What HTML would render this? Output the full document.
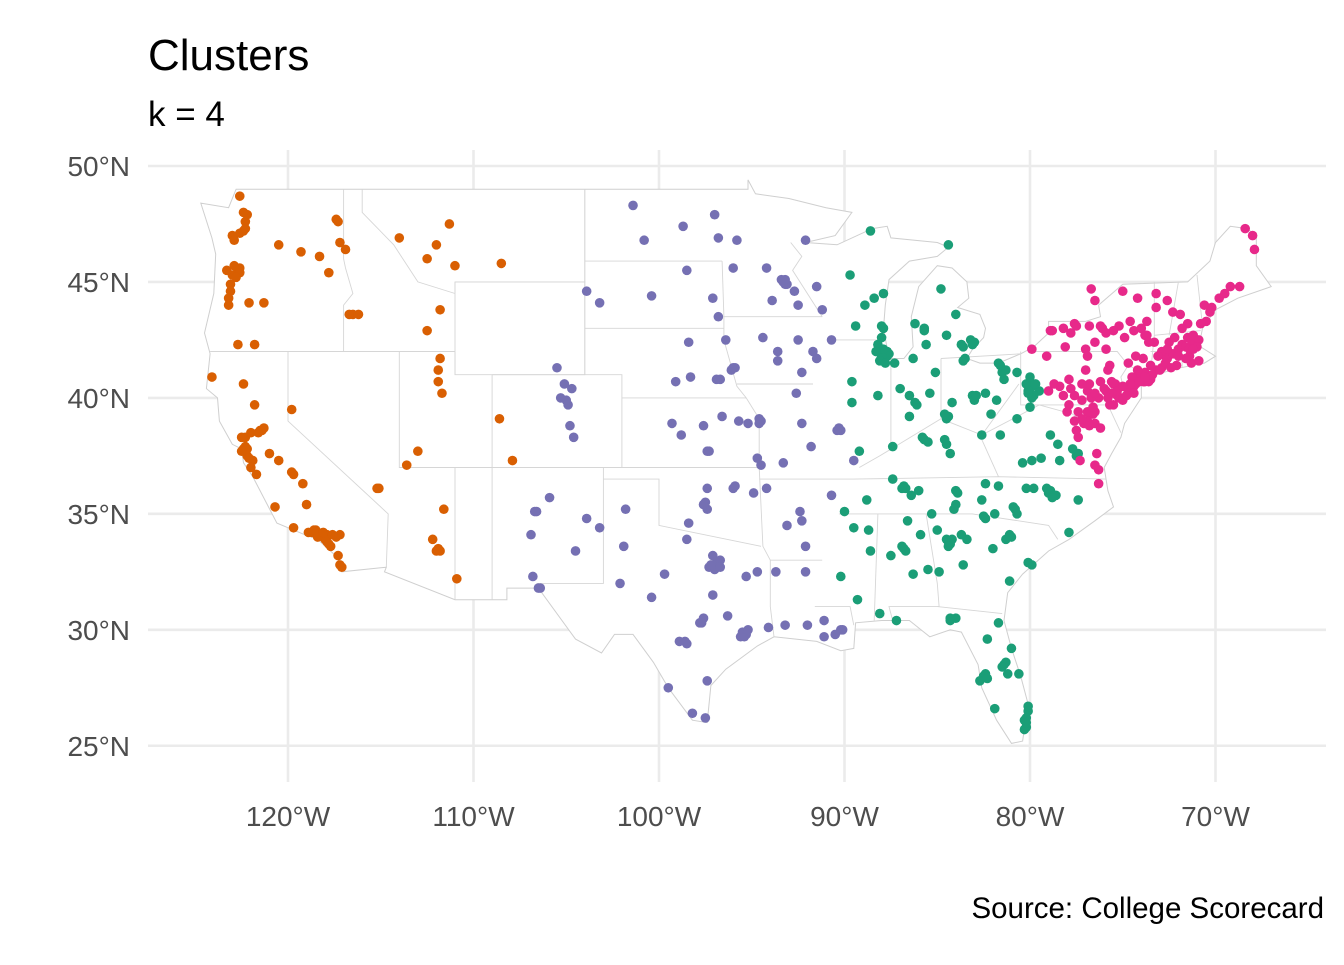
<!DOCTYPE html>
<html><head><meta charset="utf-8"><title>Clusters</title>
<style>
html,body{margin:0;padding:0;background:#fff;}
body{width:1344px;height:960px;overflow:hidden;font-family:"Liberation Sans",Arial,sans-serif;}
svg text{font-family:"Liberation Sans",Arial,sans-serif;}
</style></head>
<body>
<svg id="chart" width="1344" height="960" viewBox="0 0 1344 960" xmlns="http://www.w3.org/2000/svg">
<text x="148" y="70" font-size="44" fill="#000">Clusters</text>
<text x="148" y="126" font-size="35" fill="#000">k = 4</text>
<g id="grid"></g>
<g id="map"></g>
<g id="pts"></g>
<g id="axes"></g>
<text x="1324" y="918" font-size="29.5" text-anchor="end" fill="#000">Source: College Scorecard</text>
</svg>
<script>
const lonTicks=[-120,-110,-100,-90,-80,-70];
const latTicks=[25,30,35,40,45,50];
const lonLabels=["120°W","110°W","100°W","90°W","80°W","70°W"];
const latLabels=["25°N","30°N","35°N","40°N","45°N","50°N"];
const clusterColors={west:"#D95F02",central:"#7570B3",east:"#1B9E77",northeast:"#E7298A"};
const westPts=[[-122.6,48.7],[-122.3,47.6],[-122.4,47.2],[-122.6,47.1],[-123,47],[-122.9,46.8],[-122.2,47.9],[-122.3,47.3],[-117.4,47.7],[-117.3,47.6],[-117.2,46.7],[-119.3,46.3],[-120.5,46.6],[-118.3,46.1],[-122.7,45.5],[-122.6,45.6],[-123,45.3],[-122.6,45.4],[-122.8,45.2],[-122.9,45.7],[-123.1,44.9],[-123.1,44.6],[-123.2,44],[-123.2,44.3],[-122.1,44.1],[-121.3,44.1],[-122.7,42.3],[-121.8,42.3],[-117.8,45.4],[-116.2,43.6],[-116.5,43.6],[-116.7,43.6],[-112.5,42.9],[-111.8,43.8],[-116.9,46.4],[-114,46.9],[-112,46.6],[-111,45.7],[-108.5,45.8],[-112.5,46],[-111.3,47.5],[-111.9,40.7],[-111.7,40.2],[-111.8,41.7],[-111.9,41.2],[-113.6,37.1],[-124.1,40.9],[-122.4,40.6],[-121.8,39.7],[-121.5,38.6],[-121.4,38.6],[-122.3,38.3],[-122.4,37.8],[-122.3,37.9],[-122.2,37.5],[-121.9,37.3],[-122,37],[-121.7,36.7],[-121,37.6],[-120.5,37.3],[-119.8,36.8],[-119.7,36.7],[-119.2,36.3],[-119,35.4],[-120.7,35.3],[-119.7,34.4],[-118.5,34.3],[-118.3,34.1],[-118.1,34],[-118.2,34.1],[-117.9,33.8],[-117.7,33.6],[-117.9,34.1],[-118,33.9],[-117.4,34],[-117.2,34.1],[-117.2,32.8],[-117.1,32.7],[-117.3,33.2],[-118.7,34.2],[-118.6,34.3],[-118.4,34],[-117.6,34.1],[-121.3,38.7],[-122,38.5],[-122.5,38.3],[-122.2,37.8],[-121.6,38.5],[-115.2,36.1],[-115.1,36.1],[-119.8,39.5],[-112,33.4],[-111.9,33.5],[-111.8,33.4],[-111.6,35.2],[-110.9,32.2],[-112.2,33.9],[-113,37.7],[-108.6,39.1],[-107.9,37.3],[-122.5,37.7],[-122.1,37.4],[-118.9,34.2],[-118.1,34.2],[-117.8,33.7],[-123.3,45.5],[-122.4,48]];
const centralPts=[[-104.9,39.7],[-105,39.9],[-105.3,40],[-104.8,38.8],[-104.6,38.3],[-105.1,40.6],[-104.7,40.4],[-105.5,41.3],[-103.9,44.6],[-103.2,44.1],[-106.6,35.1],[-106.7,35.1],[-106.8,32.3],[-103.2,34.4],[-105.9,35.7],[-106.9,34.1],[-104.5,33.4],[-103.9,34.8],[-106.4,31.8],[-106.5,31.8],[-97.7,30.3],[-97.8,30.3],[-97.1,32.7],[-96.8,32.8],[-96.9,32.9],[-97.3,32.7],[-97,32.6],[-96.7,33],[-95.4,29.7],[-95.3,29.8],[-95.5,29.9],[-95.2,30],[-98.5,29.4],[-98.6,29.5],[-101.9,33.6],[-101.8,35.2],[-98.2,26.4],[-97.4,27.8],[-97.5,26.2],[-99.5,27.5],[-100.4,31.4],[-102.1,32],[-99.7,32.4],[-97.1,31.5],[-96.3,30.6],[-94.1,30.1],[-95.3,32.3],[-94.7,32.5],[-97.1,33.2],[-98.5,33.9],[-97.4,35.2],[-96,36.1],[-97.5,35.5],[-97.4,36.1],[-95.9,36.2],[-98.4,34.6],[-94.9,35.9],[-97.3,37.7],[-97.4,37.7],[-95.7,39],[-95.2,38.9],[-96.6,39.2],[-99.3,38.9],[-97.6,38.8],[-98.8,38.4],[-94.7,37.4],[-96.7,40.8],[-96,41.3],[-96.1,41.2],[-98.3,40.9],[-98.4,42.4],[-99.1,40.7],[-96.8,43.5],[-96.8,46.9],[-97,47.9],[-100.8,46.8],[-101.4,48.3],[-98.7,47.4],[-98.5,45.5],[-97.1,44.3],[-100.4,44.4],[-93.3,45],[-93.2,44.9],[-93.1,44.9],[-93.4,45.1],[-92.5,44],[-94.2,45.6],[-92.1,46.8],[-95.8,46.8],[-93.9,44.2],[-96,45.6],[-93.6,41.6],[-91.5,41.7],[-92.5,42.5],[-96.4,42.5],[-90.7,42.5],[-93.6,42],[-91.7,42],[-95.9,41.3],[-94.4,42.6],[-92.3,41.1],[-90.2,38.6],[-90.3,38.7],[-94.6,39.1],[-94.5,39],[-92.3,38.9],[-93.3,37.2],[-91.8,37.9],[-94.5,37.1],[-92.6,40.2],[-89.5,37.3],[-92.3,34.7],[-94.2,36.1],[-92.4,35.1],[-93.1,34.5],[-90.7,35.8],[-92.1,33.6],[-90.1,30],[-90.2,30],[-91.1,30.4],[-93.2,30.2],[-92,30.2],[-93.7,32.5],[-92.1,32.5],[-91.1,29.7],[-90.5,29.8],[-91.5,44.8],[-91.2,43.8],[-92.7,44.6],[-97.2,32.8],[-96.7,32.7],[-97.6,30.5],[-95.6,29.7],[-97.6,35.4],[-96.9,40.8],[-94.6,38.9],[-90.4,38.6],[-93.2,45.1],[-98.9,29.5]];
const eastPts=[[-87.9,43],[-88,43.1],[-89.4,43.1],[-87.6,41.9],[-87.7,42],[-87.7,41.8],[-88,41.8],[-88.2,42.3],[-88.1,41.6],[-87.9,42.1],[-89.6,40.7],[-88.2,40.1],[-89.6,39.8],[-89.2,37.7],[-88.9,44],[-89.7,45.3],[-87.9,44.5],[-88.4,44.3],[-83.7,42.3],[-83,42.4],[-83.2,42.5],[-85.6,42.3],[-84.5,42.7],[-85.7,43],[-84,43.6],[-86.2,43.2],[-84.8,44.7],[-83.5,41.7],[-88.6,47.2],[-84.4,46.6],[-86.2,39.8],[-86.1,39.7],[-86.5,39.2],[-87,40.4],[-86.3,41.7],[-85.1,41.1],[-87.4,37.9],[-85.4,40.2],[-84.5,39.1],[-84.4,39.2],[-83,40],[-83.1,40.1],[-81.7,41.5],[-81.6,41.4],[-81.5,41.1],[-80.7,41.1],[-84.2,39.8],[-82.4,40.2],[-82.1,39.3],[-83.6,41.6],[-81.4,40.8],[-84.5,38],[-85.8,38.3],[-85.7,38.2],[-86.8,36.2],[-86.7,36.1],[-84,36],[-83.9,35.9],[-85.3,35],[-90,35.1],[-87.4,36.5],[-86.4,35.8],[-88.8,35.6],[-82.4,36.3],[-84.3,37.6],[-82.6,38.4],[-80,40.4],[-79.9,40.5],[-80.1,40.3],[-79.5,40.3],[-79.8,40.1],[-80,40.7],[-79.9,40],[-81.6,38.4],[-80,39.6],[-80.7,39.1],[-78.9,36],[-79,35.9],[-80.8,35.2],[-80.9,35.3],[-80.2,36.1],[-79.8,36.1],[-78.6,35.8],[-78.7,35.8],[-77.5,37.5],[-77.4,37.6],[-79.4,37.4],[-78.5,38],[-80.4,37.2],[-82.6,35.6],[-79.9,37.3],[-78.9,38.4],[-81.7,36.2],[-77.4,35.6],[-77.9,34.2],[-81,34],[-81.1,34.1],[-79.9,32.8],[-82.4,34.8],[-81.9,35],[-84.4,33.8],[-84.3,33.7],[-84.5,33.9],[-83.4,33.9],[-81.1,32.1],[-84,30.5],[-83.6,32.8],[-84.9,32.5],[-82,33.5],[-85,34.3],[-86.8,33.5],[-86.7,33.4],[-85.5,32.6],[-88.1,30.7],[-90.2,32.3],[-89.5,34.4],[-86.6,34.7],[-88.6,33.4],[-87.5,33.2],[-86.3,32.4],[-89.3,31.3],[-88.7,34.3],[-84.3,30.4],[-84.3,30.5],[-82.3,29.6],[-81.4,28.5],[-81.3,28.6],[-82.5,28],[-82.4,28.1],[-80.2,25.8],[-80.3,25.7],[-80.1,26.5],[-81.7,30.3],[-82.7,27.8],[-80.6,28.1],[-80.3,26.1],[-81.9,26.6],[-81,29.2],[-87.2,30.4],[-80.1,26.7],[-81.2,28.1],[-88.3,42],[-87.8,41.5],[-88,42.6],[-83.1,42.3],[-83.6,42.2],[-84.6,39.3],[-83,39.9],[-81.3,41.2],[-80.2,40.6],[-80.1,40.2],[-79.7,40.6],[-80,40.9],[-81.8,39.9],[-85.5,38.1],[-84.6,38.2],[-86.9,36.1],[-84,35.4],[-82.5,34.9],[-80.7,35],[-79.1,36.1],[-78.8,35.7],[-77.7,37.8],[-84.2,33.9],[-84.4,33.6],[-83.7,34.1],[-81.3,33.9],[-80.1,32.9],[-86.9,33.6],[-85.9,34.1],[-81.5,28.4],[-82.3,27.9],[-80.2,26.2],[-80.2,26],[-86.5,40.1],[-87.3,41.5],[-85.7,42.9],[-82.9,40.1],[-84.1,35.2],[-86,36],[-78.4,37.3]];
const northeastPts=[[-79.9,42.1],[-78.9,42.9],[-78.8,42.9],[-77.6,43.2],[-77.5,43.1],[-76.1,43],[-76.2,43.1],[-76.5,42.4],[-73.8,42.7],[-73.7,42.7],[-73.9,40.7],[-74,40.8],[-73.9,40.8],[-73.8,40.7],[-73.6,40.7],[-73.5,40.8],[-73.9,41.7],[-75.2,43.1],[-74,41],[-73.8,41.1],[-75.9,42.1],[-77,42.1],[-74.9,42.6],[-75.2,40],[-75.1,40],[-75.3,40.1],[-75.4,40.6],[-75.5,40.6],[-76.9,40.3],[-76.3,40],[-77.9,40.8],[-75.7,41.4],[-77,41.2],[-76.7,40],[-77.2,39.9],[-78.4,40.5],[-75.9,40.3],[-79,40.3],[-74.4,40.5],[-74.7,40.3],[-74.2,40.8],[-74.1,40.9],[-74.5,40.9],[-74.3,40.6],[-75,39.9],[-76.6,39.3],[-76.7,39.3],[-77,38.9],[-77.1,38.9],[-76.9,39],[-75.5,39.7],[-75.7,39.7],[-77.4,39.4],[-76.5,38.9],[-77.4,38.3],[-76.3,36.9],[-76.3,36.3],[-77.3,37.3],[-76.5,37.1],[-71.1,42.4],[-71.1,42.3],[-71,42.4],[-71.2,42.3],[-71.4,41.8],[-72.9,41.3],[-72.7,41.8],[-72.6,41.7],[-72.5,42.4],[-71.8,42.3],[-71.5,42.6],[-71.5,43.2],[-72.3,43.7],[-73.2,44.5],[-70.3,43.7],[-70.2,43.9],[-69.8,44.3],[-68.7,44.8],[-68.4,47.3],[-68,47],[-74.2,44.3],[-75,44.6],[-76.7,44.7],[-73.2,41.2],[-72.1,41.4],[-71.3,41.5],[-70.9,41.6],[-72.9,42],[-73.3,42.4],[-71.8,43],[-70.5,43.3],[-73.7,43.3],[-74.3,41.8],[-78.1,42.2],[-79.1,41.8],[-76.5,44.2],[-73.5,41.4],[-74.7,41.5],[-75.3,40.3],[-75.6,40.2],[-75.8,40],[-76,40.4],[-76.5,40.2],[-76.2,40.7],[-76.8,40.6],[-77.6,40.1],[-77.8,40.4],[-78.2,40.1],[-78.7,40.6],[-74.6,40.6],[-74.8,40.1],[-74.4,40.2],[-74.1,40.7],[-73.7,40.9],[-73.4,41],[-73,41.2],[-72.7,41.5],[-72.3,41.9],[-72,42.1],[-71.6,42.2],[-71.3,42.5],[-71.2,42.7],[-70.9,42.5],[-71.4,42.1],[-71.6,41.7],[-72.4,41.3],[-73.1,41.8],[-72.6,42.1],[-72.2,42.6],[-71,42.2],[-71.2,42.1],[-72,41.8],[-73.8,40.9],[-74.2,41.2],[-75,40.5],[-75.6,40.7],[-76.9,39.4],[-76.5,39.4],[-77.2,39.1],[-76.8,38.8],[-77.6,39],[-76.6,39.6],[-77.9,39.7],[-75.8,41.2],[-76.9,41.8],[-75.9,42.8],[-74.4,42.9],[-74,43],[-73.6,42.4],[-74.6,43.3],[-73.2,43.9],[-72.6,44.2],[-71.9,43.6],[-70.8,43.2],[-70.6,44],[-69.2,44.8],[-69.5,44.5],[-67.9,46.4],[-78.2,43],[-77.8,42.8],[-76.8,43.1],[-75.5,42.9],[-77.2,40.6],[-78,39.4],[-76.2,38.7],[-76.4,37.6],[-77.5,38.6]];

const sx=lon=>288+(lon+120)*18.55;
const sy=lat=>166+(50-lat)*23.19;
const NS="http://www.w3.org/2000/svg";
function mk(tag,attrs,parent){const e=document.createElementNS(NS,tag);for(const k in attrs)e.setAttribute(k,attrs[k]);parent.appendChild(e);return e;}

const grid=document.getElementById('grid');
lonTicks.forEach((v,i)=>{
  const l=mk('line',{x1:sx(v),x2:sx(v),y1:150,y2:782,stroke:'#ebebeb','stroke-width':2.6},grid);
  
  
});
latTicks.forEach((v,i)=>{
  const l=mk('line',{x1:148,x2:1326,y1:sy(v),y2:sy(v),stroke:'#ebebeb','stroke-width':2.6},grid);
  
  
});

const outline=[[-124.7,48.4],[-123.2,48.2],[-122.8,49],[-95.2,49],[-95.2,49.4],[-94.8,48.8],[-93,48.6],[-91,48.2],[-89.6,48],[-90.5,47],[-92.1,46.7],[-90.4,46.6],[-88.5,47.3],[-87.7,47.4],[-87.5,46.9],[-85,46.7],[-84.4,46.5],[-85,46.1],[-86.5,45.9],[-87.6,45.1],[-87.8,44],[-87.9,43],[-87.6,41.7],[-86.8,41.7],[-86.3,42.2],[-86.4,43.5],[-86,44.8],[-85,45.7],[-84.2,45.6],[-83.4,45],[-83.3,44.3],[-83.9,43.9],[-82.7,43.6],[-82.4,43],[-82.5,42.6],[-83.1,42.1],[-83.4,41.7],[-82.7,41.5],[-81.7,41.5],[-80.5,41.9],[-79.8,42.2],[-79,42.8],[-79,43.3],[-77,43.3],[-76.2,43.5],[-76.3,44],[-75,44.9],[-71.5,45],[-71.1,45.3],[-70.3,45.9],[-70,46.7],[-69.2,47.4],[-68.3,47.3],[-67.8,47],[-67.8,45.7],[-67,44.8],[-68.8,44.3],[-70,43.8],[-70.7,43],[-70.8,42.6],[-71,42.3],[-70,41.8],[-70.6,41.5],[-71.9,41.3],[-73.7,40.9],[-74,40.6],[-74,40],[-74.9,38.9],[-75.1,38.3],[-75.6,37.6],[-76,37],[-75.8,36],[-75.5,35.3],[-76.5,34.7],[-77.9,33.9],[-79,33.4],[-80.4,32.4],[-81.2,31.6],[-81.4,30.4],[-81,29.2],[-80.5,28],[-80.1,26.8],[-80.4,25.2],[-81,25.1],[-81.8,26.1],[-82.6,27.5],[-82.8,28.5],[-83.7,29.9],[-84.3,30],[-85.4,29.7],[-86.5,30.4],[-88,30.4],[-89.4,30.3],[-89.5,29.2],[-90.2,29.1],[-91.5,29.5],[-93.8,29.7],[-94.7,29.3],[-96.4,28.3],[-97.2,27.6],[-97.4,26],[-98.2,26.1],[-99.5,27.5],[-100.3,28.6],[-101.4,29.8],[-102.4,29.8],[-103.1,29],[-104.5,29.6],[-106.5,31.8],[-108.2,31.8],[-108.2,31.3],[-111,31.3],[-114.8,32.5],[-114.7,32.7],[-117.1,32.5],[-117.3,33.1],[-118.4,33.9],[-119.1,34.1],[-120.6,34.6],[-121.9,36.6],[-122.4,37.2],[-122.5,37.8],[-123,38],[-123.7,39],[-123.8,40],[-124.4,40.4],[-124.2,41.9],[-124.5,42.8],[-124,44.5],[-123.9,46.2],[-124.1,46.9],[-124.7,48.4]];
const borders=[
 [[-117,49],[-117,46],[-116.9,45.6],[-116.5,44.5],[-117,44],[-117,42]],
 [[-124.2,42],[-111,42]],[[-120,42],[-120,39],[-114.6,35],[-114.7,32.7]],
 [[-111,45],[-104,45],[-104,41],[-111,41],[-111,45]],
 [[-116,49],[-116,48],[-114.3,46.6],[-113,45],[-111,44.5]],[[-111,44.5],[-111,45],[-104,45],[-104,49]],
 [[-114,42],[-114,37],[-109,37],[-109,41]],[[-111,41],[-111,42]],[[-111,37],[-111,31.3]],[[-109,37],[-109,31.3]],
 [[-109,41],[-102,41],[-102,37],[-109,37]],[[-104,49],[-104,41]],[[-104,45.9],[-96.6,45.9]],[[-104,43],[-96.5,43]],
 [[-102,40],[-95.3,40]],[[-102,37],[-94.6,37]],[[-103,37],[-103,32],[-106.6,32]],[[-103,36.5],[-100,36.5],[-100,34.5],[-94.5,33.6]],
 [[-94.6,37],[-94.4,33.6],[-94,33],[-94,31],[-93.8,29.7]],[[-94,33],[-91.2,33]],[[-91.6,31],[-89.7,31],[-89.5,30.2]],
 [[-96.6,45.9],[-96.5,43.5],[-96.5,42.5],[-95.8,40.5],[-95.3,40],[-94.6,39.1],[-94.6,37]],[[-96.5,43.5],[-91.2,43.5]],
 [[-95.8,40.6],[-91.7,40.6]],[[-94.6,36.5],[-90,36.5],[-89.5,36.5],[-81.7,36.6],[-75.9,36.5]],[[-90.3,35],[-84.3,35],[-83.1,35],[-79,34.5],[-78.5,33.9]],
 [[-88.2,35],[-88.4,30.4]],[[-85.6,35],[-85,32],[-84.9,31],[-87.6,31],[-87.4,30.4]],[[-85,31],[-81.5,30.7]],
 [[-87.5,41.7],[-87.5,37.9]],[[-84.8,41.7],[-84.8,39.1]],[[-90.6,42.5],[-87.8,42.5]],[[-92.9,46.7],[-92.3,46.1],[-92.8,45.5],[-91.2,43.5]],
 [[-89.2,37],[-88.1,37.5],[-84.8,39.1],[-82.6,38.4],[-80.6,40.6]],[[-84.8,41.7],[-80.5,41.9]],[[-80.5,42],[-80.5,39.7],[-75.8,39.7]],
 [[-79.8,42],[-75.3,42],[-74.7,41.4],[-73.7,41]],[[-82.6,38.2],[-81.7,36.6]],[[-79.5,39.7],[-77.7,39.3],[-77,38.8]],
 [[-73.3,45],[-73.3,42.7],[-73.5,41.1]],[[-73.5,42],[-71.8,42],[-71.8,41.3]],[[-73.3,42.7],[-70.8,42.9]],[[-72.5,42.7],[-72,45]],[[-71,45.3],[-70.7,43.1]],
 [[-75.8,39.7],[-75.1,38.5]],[[-75.5,39.7],[-74.9,40.2],[-75.1,40.9],[-74.7,41.4]],[[-82.6,38.4],[-79.5,39.7]]
];
const mapG=document.getElementById('map');
const toD=pts=>pts.map((p,i)=>(i?'L':'M')+sx(p[0]).toFixed(1)+' '+sy(p[1]).toFixed(1)).join(' ');
const land=mk('path',{d:toD(outline)+' Z',fill:'#ffffff',stroke:'#cfcfcf','stroke-width':1},mapG);


borders.forEach(b=>{
  const p=mk('path',{d:toD(b),fill:'none',stroke:'#d6d6d6','stroke-width':0.9},mapG);
  
  
});

const ptsG=document.getElementById('pts');
function drawCluster(arr,key){
  arr.forEach(p=>{
    const c=mk('circle',{cx:sx(p[0]),cy:sy(p[1]),r:4.8,fill:clusterColors[key]},ptsG);
    
    
  });
}
drawCluster(westPts,'west');drawCluster(centralPts,'central');drawCluster(eastPts,'east');drawCluster(northeastPts,'northeast');

const axG=document.getElementById('axes');
lonTicks.forEach((v,i)=>{
  const t=mk('text',{x:sx(v),y:826,'font-size':28,fill:'#4d4d4d','text-anchor':'middle'},axG);
  t.textContent=lonLabels[i];
  
  
});
latTicks.forEach((v,i)=>{
  const t=mk('text',{x:130,y:sy(v)+10,'font-size':28,fill:'#4d4d4d','text-anchor':'end'},axG);
  t.textContent=latLabels[i];
  
  
});
</script>
</body></html>
